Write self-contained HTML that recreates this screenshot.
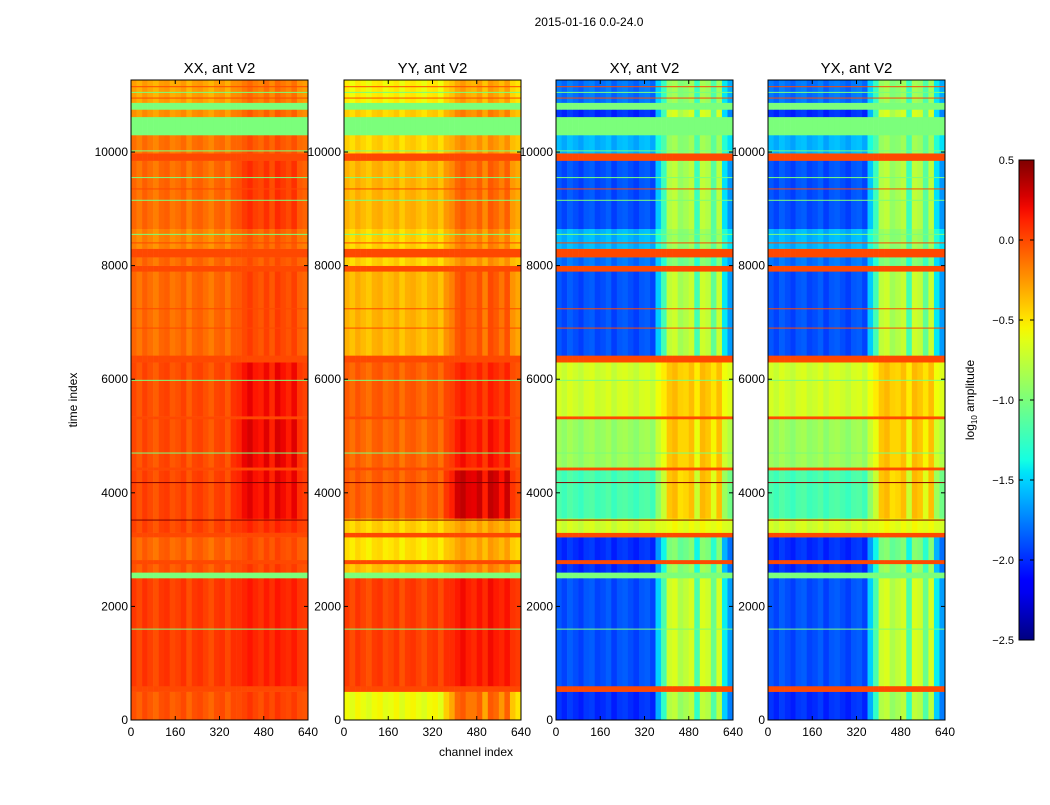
<!DOCTYPE html>
<html><head><meta charset="utf-8">
<style>
body{margin:0;background:#fff;font-family:"Liberation Sans",sans-serif;}
svg text{font-family:"Liberation Sans",sans-serif;fill:#000;}
</style></head>
<body>
<svg id="chart" width="1050" height="800" viewBox="0 0 1050 800" xmlns="http://www.w3.org/2000/svg">
<defs>
<linearGradient id="jet" x1="0" y1="1" x2="0" y2="0"></linearGradient>
</defs>
<text x="589" y="26" font-size="12" text-anchor="middle">2015-01-16 0.0-24.0</text>
<g id="panels"></g>
<g>
<rect x="1019" y="160" width="15" height="480" fill="url(#jet)" stroke="#000" stroke-width="1"/>
<g id="cbticks"></g>
<text transform="translate(974,400) rotate(-90)" font-size="12" text-anchor="middle">log<tspan font-size="8" dy="3">10</tspan><tspan dy="-3"> amplitude</tspan></text>
</g>
<text transform="translate(77,400) rotate(-90)" font-size="12" text-anchor="middle">time index</text>
<text x="476" y="756" font-size="12" text-anchor="middle">channel index</text>
</svg>
<script>
// ---- data ----
const panelTitles = ["XX, ant V2","YY, ant V2","XY, ant V2","YX, ant V2"];
const rowStart = [0,500,600,2500,2600,2750,2820,3220,3300,3550,4400,4450,5300,5350,6300,6420,7900,8000,8150,8300,8650,9850,9980,10300,10620,10750,10870];
const rowEnd   = [500,600,2500,2600,2750,2820,3220,3300,3550,4400,4450,5300,5350,6300,6420,7900,8000,8150,8300,8650,9850,9980,10300,10620,10750,10870,11268];
const xxLeft  = [-0.05,0.0,0.03,-1.0,-0.05,0.0,-0.1,0.0,0.0,0.0,0.0,-0.02,0.0,-0.02,0.0,-0.12,0.0,-0.12,0.0,-0.2,-0.12,0.0,-0.15,-1.0,-0.25,-1.0,-0.3];
const xxRight = [0.02,0.0,0.12,-1.0,0.02,0.0,-0.02,0.0,0.08,0.2,0.0,0.22,0.0,0.18,0.0,0.0,0.0,-0.05,0.0,-0.08,0.05,0.0,-0.05,-1.0,-0.1,-1.0,-0.15];
const yyLeft  = [-0.6,0.0,0.02,-1.0,-0.4,0.0,-0.5,0.0,-0.45,-0.08,0.0,-0.1,0.0,-0.08,0.0,-0.36,0.0,-0.45,0.0,-0.45,-0.36,0.0,-0.45,-1.0,-0.45,-1.0,-0.55];
const yyRight = [-0.1,0.0,0.15,-1.0,-0.2,0.0,-0.3,0.0,-0.3,0.28,0.0,0.15,0.0,0.1,0.0,-0.05,0.0,-0.25,0.0,-0.2,-0.1,0.0,-0.25,-1.0,-0.2,-1.0,-0.3];
const xyLeft  = [-2.0,0.0,-1.9,-1.0,-2.0,0.0,-2.0,0.0,-0.7,-1.2,0.0,-0.9,0.0,-0.7,0.0,-1.9,0.0,-1.8,0.0,-1.6,-1.9,0.0,-1.6,-1.0,-2.0,-1.0,-1.8];
const xyRight = [-0.8,0.0,-0.7,-1.0,-0.9,0.0,-1.0,0.0,-0.6,-0.4,0.0,-0.4,0.0,-0.4,0.0,-0.75,0.0,-1.0,0.0,-0.9,-0.8,0.0,-0.9,-1.0,-0.7,-1.0,-0.9];
const yxLeft  = [-2.0,0.0,-1.9,-1.0,-2.0,0.0,-2.0,0.0,-0.7,-1.2,0.0,-0.9,0.0,-0.7,0.0,-1.9,0.0,-1.8,0.0,-1.6,-1.9,0.0,-1.6,-1.0,-2.0,-1.0,-1.8];
const yxRight = [-0.8,0.0,-0.7,-1.0,-0.9,0.0,-1.0,0.0,-0.6,-0.4,0.0,-0.4,0.0,-0.4,0.0,-0.75,0.0,-1.0,0.0,-0.9,-0.8,0.0,-0.9,-1.0,-0.7,-1.0,-0.9];
const isFlag  = [0,1,0,1,0,1,0,1,0,0,1,0,1,0,1,0,1,0,1,0,0,1,0,1,0,1,0];
// per-block (20 channels) weight of the right-side region
const colWeight = [0,0,0,0,0,0,0,0,0,0,0,0,0,0,0,0,0,0,0.3,0.6,1,1,0.9,1,1,0.6,1,1,0.7,1,0.4,0.2];
const colStripe = [0.03,-0.03,0.05,0,-0.05,0.03,0.05,-0.03,0,0.05,-0.05,0.03,0.05,0,-0.05,0.03,0.05,-0.03,0.03,0,0,0.05,0,-0.05,0.03,0,0.05,0,0,0.03,0,0];
const lineTimes  = [1600,3520,4180,4700,5980,6900,7240,8400,8550,9150,9350,9550,10020,10950,11050,11150];
const lineValues = [-1.0,0.5,0.5,-1.0,-1.0,0.0,0.0,0.0,-1.0,-1.0,0.0,-1.0,-1.0,0.0,-1.0,0.0];
const yTicks = [0,2000,4000,6000,8000,10000];
const xTicks = [0,160,320,480,640];
const cbTicks = [0.5,0.0,-0.5,-1.0,-1.5,-2.0,-2.5];
// ---- layout ----
const panelX = [131,344,556,768], PW=177, PT=80, PB=720, TMAX=11268, CMAX=640;
const vmin=-2.5, vmax=0.5;
const yScale = t => PB - (t/TMAX)*(PB-PT);
const NS='http://www.w3.org/2000/svg';
const segR=[[0,0],[0.35,0],[0.66,1],[0.89,1],[1,0.5]];
const segG=[[0,0],[0.125,0],[0.375,1],[0.64,1],[0.91,0],[1,0]];
const segB=[[0,0.5],[0.11,1],[0.34,1],[0.65,0],[1,0]];
function seg(s,t){for(let i=1;i<s.length;i++){if(t<=s[i][0]){const a=s[i-1],b=s[i];return a[1]+(b[1]-a[1])*(t-a[0])/(b[0]-a[0]);}}return s[s.length-1][1];}
function jetT(t){t=Math.max(0,Math.min(1,t));return `rgb(${Math.round(255*seg(segR,t))},${Math.round(255*seg(segG,t))},${Math.round(255*seg(segB,t))})`;}
function jet(v){return jetT((v-vmin)/(vmax-vmin));}
function mk(tag,attrs,parent){const e=document.createElementNS(NS,tag);for(const k in attrs)e.setAttribute(k,attrs[k]);parent.appendChild(e);return e;}
const grad=document.getElementById('jet');
for(let i=0;i<=40;i++){mk('stop',{offset:i/40,'stop-color':jetT(i/40)},grad);}
const panelsG=document.getElementById('panels');
const lefts=[xxLeft,yyLeft,xyLeft,yxLeft], rights=[xxRight,yyRight,xyRight,yxRight];
const names=['xx','yy','xy','yx'];
for(let p=0;p<4;p++){
  const x0=panelX[p];
  const xScale = c => x0 + (c/CMAX)*PW;
  const g=mk('g',{},panelsG);
  
  
  const nb=colWeight.length, bw=CMAX/nb;
  for(let r=0;r<rowStart.length;r++){
    const y1=yScale(rowEnd[r]), y2=yScale(rowStart[r]);
    for(let b=0;b<nb;b++){
      let v;
      if(isFlag[r]) v=lefts[p][r];
      else v=lefts[p][r]+colWeight[b]*(rights[p][r]-lefts[p][r])+colStripe[b];
      const xa=xScale(b*bw), xb=xScale((b+1)*bw);
      const rc=mk('rect',{x:xa.toFixed(2),y:y1.toFixed(2),width:(xb-xa+0.3).toFixed(2),height:(y2-y1+0.3).toFixed(2),fill:jet(v)},g);
      
      
    }
  }
  for(let i=0;i<lineTimes.length;i++){
    const y=yScale(lineTimes[i]);
    const ln=mk('rect',{x:x0,y:(y-0.5).toFixed(2),width:PW,height:1,fill:jet(lineValues[i])},g);
    
    
  }
  const fr=mk('rect',{x:x0,y:PT,width:PW,height:PB-PT,fill:'none',stroke:'#000','stroke-width':1},g);
  
  
  const tt=mk('text',{x:x0+PW/2,y:73,'font-size':15,'text-anchor':'middle'},g);
  tt.textContent=panelTitles[p];
  
  
  for(const t of yTicks){
    const y=yScale(t);
    mk('line',{x1:x0,x2:x0+4,y1:y,y2:y,stroke:'#000'},g);
    mk('line',{x1:x0+PW-4,x2:x0+PW,y1:y,y2:y,stroke:'#000'},g);
    const lb=mk('text',{x:x0-3,y:y+4,'font-size':12,'text-anchor':'end'},g);
    lb.textContent=t;
    
    
  }
  for(const c of xTicks){
    const x=xScale(c);
    mk('line',{x1:x,x2:x,y1:PB,y2:PB-4,stroke:'#000'},g);
    mk('line',{x1:x,x2:x,y1:PT,y2:PT+4,stroke:'#000'},g);
    const lb=mk('text',{x:x,y:PB+16,'font-size':12,'text-anchor':'middle'},g);
    lb.textContent=c;
    
    
  }
}
const cbG=document.getElementById('cbticks');
for(const v of cbTicks){
  const y=160+(vmax-v)/(vmax-vmin)*480;
  mk('line',{x1:1019,x2:1023,y1:y,y2:y,stroke:'#000'},cbG);
  mk('line',{x1:1030,x2:1034,y1:y,y2:y,stroke:'#000'},cbG);
  const lb=mk('text',{x:1014,y:y+4,'font-size':11,'text-anchor':'end'},cbG);
  lb.textContent=(v<0?'\u2212':'')+Math.abs(v).toFixed(1);
  
  
}
</script>
</body></html>
